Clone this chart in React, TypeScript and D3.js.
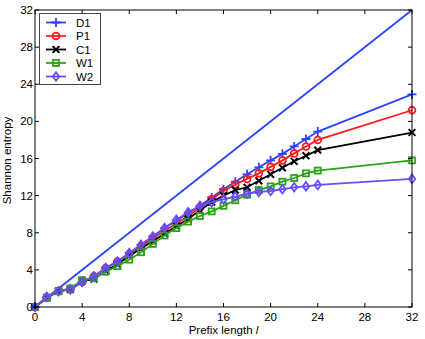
import { useMemo } from "react";
import * as d3 from "d3";

const WIDTH = 425;
const HEIGHT = 339;
const MARGIN = { top: 10, right: 13, bottom: 32, left: 35 };

const prefixLengths = [0, 1, 2, 3, 4, 5, 6, 7, 8, 9, 10, 11, 12, 13, 14, 15, 16, 17, 18, 19, 20, 21, 22, 23, 24, 32];

const d1 = [0, 1.0, 1.7, 1.9, 2.7, 3.3, 4.2, 4.9, 5.8, 6.7, 7.6, 8.5, 9.3, 10.1, 10.9, 11.8, 12.7, 13.5, 14.3, 15.05, 15.8, 16.5, 17.3, 18.1, 18.9, 22.9];
const p1 = [0, 1.0, 1.7, 1.9, 2.7, 3.3, 4.2, 4.9, 5.7, 6.5, 7.4, 8.2, 9.0, 9.8, 10.7, 11.6, 12.5, 13.2, 13.8, 14.4, 15.1, 15.8, 16.55, 17.3, 18.0, 21.2];
const c1 = [0, 1.0, 1.7, 1.9, 2.8, 3.0, 3.9, 4.6, 5.5, 6.3, 7.1, 7.9, 8.7, 9.5, 10.4, 11.3, 12.0, 12.6, 12.9, 13.6, 14.3, 15.0, 15.7, 16.3, 16.9, 18.8];
const w1 = [0, 1.0, 1.7, 2.0, 2.9, 3.1, 3.8, 4.4, 5.1, 5.9, 6.8, 7.7, 8.5, 9.2, 9.8, 10.3, 10.9, 11.5, 12.1, 12.6, 13.0, 13.5, 13.9, 14.4, 14.7, 15.8];
const w2 = [0, 1.1, 1.7, 1.9, 2.7, 3.3, 4.2, 4.9, 5.8, 6.7, 7.6, 8.5, 9.4, 10.2, 10.9, 11.3, 11.6, 11.9, 12.2, 12.4, 12.5, 12.7, 12.9, 13.0, 13.15, 13.8];

// reference line y = x
const diagonalX = [0, 32];
const diagonalY = [0, 32];

const xTicks = [0, 4, 8, 12, 16, 20, 24, 28, 32];
const yTicks = [0, 4, 8, 12, 16, 20, 24, 28, 32];

const SERIES = [
  { name: "D1", values: d1, color: "#2b44ff", marker: "plus" },
  { name: "P1", values: p1, color: "#ff1a1a", marker: "circle" },
  { name: "C1", values: c1, color: "#000000", marker: "cross" },
  { name: "W1", values: w1, color: "#2ca21a", marker: "square" },
  { name: "W2", values: w2, color: "#6a4cff", marker: "diamond" },
];

const FONT = "'Liberation Sans', Arial, sans-serif";

function Marker({ type, x, y, color }: { type: string; x: number; y: number; color: string }) {
  const sw = 1.8;
  if (type === "plus") {
    return <path d={`M${x - 4.5},${y}H${x + 4.5}M${x},${y - 4.5}V${y + 4.5}`} stroke={color} strokeWidth={sw} />;
  }
  if (type === "circle") {
    return <circle cx={x} cy={y} r={3.4} fill="none" stroke={color} strokeWidth={sw} />;
  }
  if (type === "cross") {
    return <path d={`M${x - 3.4},${y - 3.4}L${x + 3.4},${y + 3.4}M${x - 3.4},${y + 3.4}L${x + 3.4},${y - 3.4}`} stroke={color} strokeWidth={sw + 0.2} />;
  }
  if (type === "square") {
    return <rect x={x - 3} y={y - 3} width={6} height={6} fill="none" stroke={color} strokeWidth={sw} />;
  }
  return <path d={`M${x},${y - 4.3}L${x + 3.2},${y}L${x},${y + 4.3}L${x - 3.2},${y}Z`} fill="none" stroke={color} strokeWidth={sw} />;
}

const App = () => {
  const xScale = useMemo(
    () => d3.scaleLinear().domain([0, 32]).range([MARGIN.left, WIDTH - MARGIN.right]),
    []
  );
  const yScale = useMemo(
    () => d3.scaleLinear().domain([0, 32]).range([HEIGHT - MARGIN.bottom, MARGIN.top]),
    []
  );

  const line = d3
    .line<number>()
    .x((_, i) => xScale(prefixLengths[i]))
    .y((d) => yScale(d));

  const x0 = xScale(0);
  const x1 = xScale(32);
  const y0 = yScale(0);
  const y1 = yScale(32);
  const TICK = 4;

  const legend = { x: 39.5, y: 13.5, w: 61, h: 71, rowH: 13.5 };

  return (
    <svg
      width={WIDTH}
      height={HEIGHT}
      style={{ position: "absolute", left: 0, top: 0, background: "#fff" }}
      fontFamily={FONT}
    >
      {/* diagonal reference */}
      <path
        d={`M${xScale(diagonalX[0])},${yScale(diagonalY[0])}L${xScale(diagonalX[1])},${yScale(diagonalY[1])}`}
        stroke="#2b44ff"
        strokeWidth={1.8}
        fill="none"
      />

      {SERIES.map((s) => (
        <g key={s.name}>
          <path d={line(s.values) ?? ""} stroke={s.color} strokeWidth={1.8} fill="none" />
          {s.values.map((v, i) => (
            <Marker key={i} type={s.marker} x={xScale(prefixLengths[i])} y={yScale(v)} color={s.color} />
          ))}
        </g>
      ))}

      {/* box + ticks */}
      <rect x={x0} y={y1} width={x1 - x0} height={y0 - y1} fill="none" stroke="#000" strokeWidth={1} />
      {xTicks.map((t) => (
        <g key={"x" + t}>
          <line x1={xScale(t)} x2={xScale(t)} y1={y0} y2={y0 - TICK} stroke="#000" />
          <line x1={xScale(t)} x2={xScale(t)} y1={y1} y2={y1 + TICK} stroke="#000" />
          <text x={xScale(t)} y={y0 + 14} fontSize={11.5} textAnchor="middle">
            {t}
          </text>
        </g>
      ))}
      {yTicks.map((t) => (
        <g key={"y" + t}>
          <line x1={x0} x2={x0 + TICK} y1={yScale(t)} y2={yScale(t)} stroke="#000" />
          <line x1={x1} x2={x1 - TICK} y1={yScale(t)} y2={yScale(t)} stroke="#000" />
          <text x={x0 - 2} y={yScale(t) + 4} fontSize={11.5} textAnchor="end">
            {t}
          </text>
        </g>
      ))}

      <text x={(x0 + x1) / 2} y={HEIGHT - 5} fontSize={11.5} textAnchor="middle">
        Prefix length <tspan fontStyle="italic">l</tspan>
      </text>
      <text
        transform={`translate(11,${(y0 + y1) / 2 + 2}) rotate(-90)`}
        fontSize={11.5}
        textAnchor="middle"
      >
        Shannon entropy
      </text>

      {/* legend */}
      <rect x={legend.x} y={legend.y} width={legend.w} height={legend.h} fill="#fff" stroke="#444" strokeWidth={1} />
      {SERIES.map((s, i) => {
        const cy = legend.y + 9 + i * legend.rowH;
        return (
          <g key={"lg" + s.name}>
            <line x1={46} x2={66} y1={cy} y2={cy} stroke={s.color} strokeWidth={1.8} />
            <Marker type={s.marker} x={56} y={cy} color={s.color} />
            <text x={76} y={cy + 4} fontSize={11.5}>
              {s.name}
            </text>
          </g>
        );
      })}
    </svg>
  );
};

export default App;
